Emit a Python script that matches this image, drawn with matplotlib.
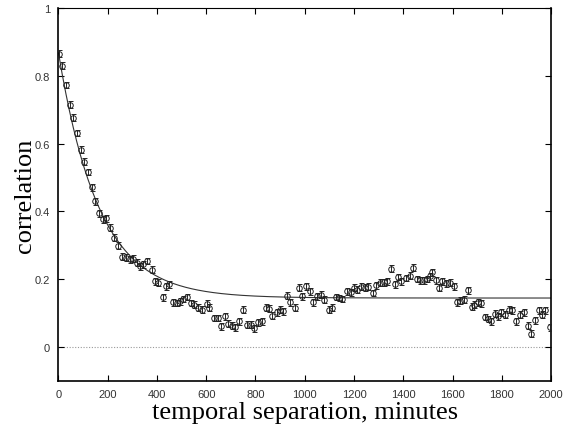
import numpy as np
import matplotlib
matplotlib.use("Agg")
import matplotlib.pyplot as plt

lag = [3, 16, 31, 46, 60, 75, 91, 105, 120, 136, 148, 165, 180, 192, 209, 226,
       243, 257, 273, 290, 304, 318, 331, 344, 360, 379, 392, 405, 423, 436, 450,
       466, 480, 493, 506, 523, 537, 551, 567, 583, 602, 612, 631, 646, 659, 676,
       689, 703, 716, 733, 750, 766, 780, 794, 810, 825, 842, 855, 869, 886, 899,
       912, 928, 942, 960, 976, 989, 1004, 1020, 1034, 1048, 1064, 1078, 1097,
       1109, 1126, 1139, 1153, 1171, 1186, 1199, 1212, 1230, 1243, 1257, 1275,
       1291, 1304, 1320, 1334, 1352, 1365, 1378, 1392, 1410, 1426, 1439, 1455,
       1469, 1483, 1496, 1507, 1516, 1531, 1544, 1559, 1572, 1588, 1604, 1617,
       1632, 1645, 1662, 1680, 1689, 1703, 1717, 1730, 1743, 1757, 1771, 1784,
       1798, 1811, 1828, 1843, 1859, 1872, 1888, 1905, 1920, 1933, 1950, 1964,
       1977, 1994]
corr = [0.865, 0.830, 0.773, 0.715, 0.676, 0.631, 0.582, 0.546, 0.516, 0.471,
        0.429, 0.394, 0.376, 0.379, 0.352, 0.322, 0.299, 0.266, 0.263, 0.258,
        0.260, 0.248, 0.238, 0.243, 0.253, 0.228, 0.193, 0.189, 0.146, 0.179,
        0.184, 0.131, 0.129, 0.134, 0.141, 0.147, 0.129, 0.124, 0.116, 0.110,
        0.127, 0.115, 0.085, 0.085, 0.060, 0.090, 0.068, 0.062, 0.058, 0.075,
        0.110, 0.065, 0.065, 0.055, 0.072, 0.075, 0.115, 0.112, 0.092, 0.102,
        0.110, 0.105, 0.151, 0.131, 0.115, 0.174, 0.149, 0.179, 0.164, 0.131,
        0.149, 0.154, 0.139, 0.110, 0.115, 0.147, 0.144, 0.141, 0.164, 0.161,
        0.174, 0.169, 0.177, 0.174, 0.177, 0.159, 0.181, 0.189, 0.190, 0.193,
        0.230, 0.184, 0.206, 0.193, 0.203, 0.210, 0.233, 0.200, 0.196, 0.196,
        0.200, 0.208, 0.220, 0.196, 0.174, 0.193, 0.187, 0.189, 0.179, 0.131,
        0.136, 0.139, 0.167, 0.118, 0.124, 0.131, 0.128, 0.088, 0.082, 0.075,
        0.098, 0.090, 0.102, 0.095, 0.110, 0.108, 0.075, 0.095, 0.102, 0.062,
        0.039, 0.078, 0.108, 0.095, 0.108, 0.058]
err = 0.01

# exponential fit drawn through the data: a + b*exp(-t/tau)
fit_a = 0.144
fit_b = 0.725
fit_tau = 165.0

xticks = [0, 200, 400, 600, 800, 1000, 1200, 1400, 1600, 1800, 2000]
yticks = [0, 0.2, 0.4, 0.6, 0.8, 1]
ytick_labels = ["0", "0.2", "0.4", "0.6", "0.8", "1"]

fig = plt.figure(figsize=(5.65, 4.31), dpi=100)
ax = fig.add_axes([0.1034, 0.1144, 0.872, 0.8647])

ax.axhline(0, color="#999999", lw=0.8, ls=(0, (1, 1.5)), zorder=1)

t_fit = np.linspace(0, 2000, 400)
ax.plot(t_fit, fit_a + fit_b * np.exp(-t_fit / fit_tau), color="#333333", lw=0.8, zorder=2)

ax.errorbar(lag, corr, yerr=err, fmt="o", ms=4, mfc="none", mec="#222222", mew=0.7,
            ecolor="#222222", elinewidth=0.7, capsize=1.8, capthick=0.7, zorder=3,
            clip_on=True)

ax.set_xlim(0, 2000)
ax.set_ylim(-0.1, 1)
ax.set_xticks(xticks)
ax.set_xticklabels([str(v) for v in xticks])
ax.set_yticks(yticks)
ax.set_yticklabels(ytick_labels)
ax.tick_params(direction="in", top=True, right=True, length=4, width=0.8,
               labelsize=8, labelcolor="#333333", pad=6)
for lbl in ax.get_xticklabels() + ax.get_yticklabels():
    lbl.set_family("Liberation Sans")
for s in ax.spines.values():
    s.set_linewidth(1.2)
ax.spines["top"].set_linewidth(0.8)

ax.set_xlabel("temporal separation, minutes", family="Liberation Serif", fontsize=19, va="center")
ax.set_ylabel("correlation", family="Liberation Serif", fontsize=19, va="center")
ax.xaxis.set_label_coords(0.5, -0.085)
ax.yaxis.set_label_coords(-0.068, 0.5)

fig.savefig("out.png", dpi=100)
